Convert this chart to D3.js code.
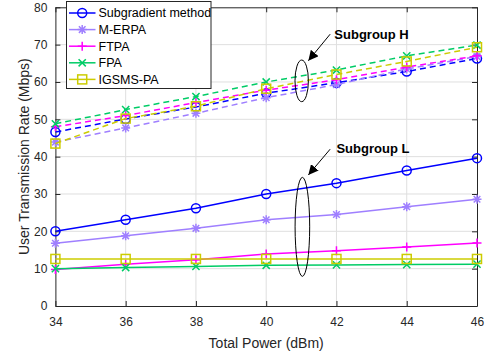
<!DOCTYPE html>
<html>
<head>
<meta charset="utf-8">
<script src="https://cdn.jsdelivr.net/npm/d3@7"></script>
<style>
  html, body { margin: 0; padding: 0; background: #fff; }
  svg { display: block; font-family: "Liberation Sans", Arial, sans-serif; }
</style>
</head>
<body>
<svg id="chart" width="485" height="354"></svg>
<script>
// Total transmit power (dBm)
const powers = [34, 36, 38, 40, 42, 44, 46];

// Subgroup H (dashed lines), user rate in Mbps
const highSubgradient = [46.6, 50.1, 53.3, 57.0, 59.8, 62.8, 66.3];
const highMERPA       = [43.9, 47.7, 51.6, 55.8, 59.3, 63.5, 66.8];
const highFTPA        = [48.0, 51.0, 54.5, 57.8, 60.6, 64.0, 67.0];
const highFPA         = [48.8, 52.6, 56.1, 60.0, 63.2, 67.0, 69.9];
const highIGSMS       = [43.5, 50.2, 53.5, 58.2, 62.0, 65.5, 69.3];

// Subgroup L (solid lines), user rate in Mbps
const lowSubgradient = [20.0, 23.1, 26.2, 30.0, 32.9, 36.3, 39.6];
const lowMERPA       = [16.8, 18.8, 20.8, 23.1, 24.5, 26.6, 28.6];
const lowFTPA        = [9.8, 11.2, 12.4, 13.9, 14.8, 15.8, 16.9];
const lowFPA         = [10.0, 10.3, 10.6, 10.9, 11.0, 11.1, 11.2];
const lowIGSMS       = [12.6, 12.6, 12.6, 12.6, 12.6, 12.6, 12.6];

const methodNames = ["Subgradient method", "M-ERPA", "FTPA", "FPA", "IGSMS-PA"];
const methodColors = ["#0000ff", "#9f7fff", "#ff00ff", "#00cc66", "#cccc00"];
const methodMarkers = ["circle", "star", "plus", "cross", "square"];

const xTicks = [34, 36, 38, 40, 42, 44, 46];
const yTicks = [0, 10, 20, 30, 40, 50, 60, 70, 80];

const highSeries = [highSubgradient, highMERPA, highFTPA, highFPA, highIGSMS];
const lowSeries = [lowSubgradient, lowMERPA, lowFTPA, lowFPA, lowIGSMS];

const svg = d3.select("#chart");
const margin = { left: 55.4, right: 477, top: 7.3, bottom: 306 };

const x = d3.scaleLinear().domain([34, 46]).range([margin.left, margin.right]);
const y = d3.scaleLinear().domain([0, 80]).range([margin.bottom, margin.top]);

const textColor = "#262626";

// grid
const grid = svg.append("g");
grid.selectAll(".gx").data(xTicks.slice(1, -1)).enter().append("line")
  .attr("x1", d => x(d)).attr("x2", d => x(d))
  .attr("y1", margin.top).attr("y2", margin.bottom)
  .attr("stroke", "#dfdfdf").attr("stroke-width", 1);
grid.selectAll(".gy").data(yTicks.slice(1, -1)).enter().append("line")
  .attr("y1", d => y(d)).attr("y2", d => y(d))
  .attr("x1", margin.left).attr("x2", margin.right)
  .attr("stroke", "#dfdfdf").attr("stroke-width", 1);

// axes (ticks drawn inward)
const xAxis = svg.append("g").attr("transform", `translate(0,${margin.bottom})`)
  .call(d3.axisBottom(x).tickValues(xTicks).tickSizeInner(-5).tickSizeOuter(0).tickPadding(11));
const yAxis = svg.append("g").attr("transform", `translate(${margin.left},0)`)
  .call(d3.axisLeft(y).tickValues(yTicks).tickSizeInner(-5).tickSizeOuter(0).tickPadding(8));
const xTop = svg.append("g").attr("transform", `translate(0,${margin.top})`)
  .call(d3.axisTop(x).tickValues(xTicks).tickSizeInner(-5).tickSizeOuter(0).tickFormat(""));
const yRight = svg.append("g").attr("transform", `translate(${margin.right},0)`)
  .call(d3.axisRight(y).tickValues(yTicks).tickSizeInner(-5).tickSizeOuter(0).tickFormat(""));
[xAxis, yAxis, xTop, yRight].forEach(a => {
  a.select(".domain").attr("stroke", textColor).attr("stroke-width", 1);
  a.selectAll(".tick line").attr("stroke", textColor);
  a.selectAll(".tick text").attr("fill", textColor).style("font-size", "12px")
    .style("font-family", "'Liberation Sans', Arial, sans-serif");
});

// axis titles
svg.append("text").attr("x", (margin.left + margin.right) / 2).attr("y", 348)
  .attr("text-anchor", "middle").attr("fill", textColor).style("font-size", "14px")
  .text("Total Power (dBm)");
svg.append("text").attr("transform", `translate(29,${(margin.top + margin.bottom) / 2}) rotate(-90)`)
  .attr("text-anchor", "middle").attr("fill", textColor).style("font-size", "14px")
  .text("User Transmission Rate (Mbps)");

// marker drawing
function drawMarker(g, type, cx, cy, color) {
  const s = 4.5;
  if (type === "circle") {
    g.append("circle").attr("cx", cx).attr("cy", cy).attr("r", s)
      .attr("fill", "none").attr("stroke", color).attr("stroke-width", 1.5);
  } else if (type === "square") {
    g.append("rect").attr("x", cx - 4.5).attr("y", cy - 4.5).attr("width", 9).attr("height", 9)
      .attr("fill", "none").attr("stroke", color).attr("stroke-width", 1.5);
  } else if (type === "plus") {
    g.append("path").attr("d", `M${cx - s},${cy}H${cx + s}M${cx},${cy - s}V${cy + s}`)
      .attr("stroke", color).attr("stroke-width", 1.5);
  } else if (type === "cross") {
    const c = 3.6;
    g.append("path").attr("d", `M${cx - c},${cy - c}L${cx + c},${cy + c}M${cx - c},${cy + c}L${cx + c},${cy - c}`)
      .attr("stroke", color).attr("stroke-width", 1.5);
  } else if (type === "star") {
    const c = 3.3;
    g.append("path").attr("d",
      `M${cx - s},${cy}H${cx + s}M${cx},${cy - s}V${cy + s}` +
      `M${cx - c},${cy - c}L${cx + c},${cy + c}M${cx - c},${cy + c}L${cx + c},${cy - c}`)
      .attr("stroke", color).attr("stroke-width", 1.5);
  }
}

const line = d3.line().x((d, i) => x(powers[i])).y(d => y(d));
const plot = svg.append("g");

function drawSeries(values, idx, dashed) {
  const color = methodColors[idx];
  plot.append("path").datum(values).attr("d", line)
    .attr("fill", "none").attr("stroke", color).attr("stroke-width", 1.5)
    .attr("stroke-dasharray", dashed ? "6,4" : null);
  const mg = plot.append("g");
  values.forEach((v, i) => drawMarker(mg, methodMarkers[idx], x(powers[i]), y(v), color));
}

lowSeries.forEach((s, i) => drawSeries(s, i, false));
highSeries.forEach((s, i) => drawSeries(s, i, true));

// annotations: ellipses grouping each subgroup, with arrows and labels
const defs = svg.append("defs");
defs.append("marker").attr("id", "arrow").attr("viewBox", "0 0 10 10")
  .attr("refX", 10).attr("refY", 5).attr("markerWidth", 10).attr("markerHeight", 10)
  .attr("markerUnits", "userSpaceOnUse").attr("orient", "auto")
  .append("path").attr("d", "M0,0L10,5L0,10z").attr("fill", "#000");

const notes = [
  { label: "Subgroup H", cx: 41.01, cy: 60.3, rx: 6.7, ry: 20.8, fromX: 41.82, fromY: 72.8, toX: 41.2, toY: 65.7, tx: 41.94, ty: 71.5 },
  { label: "Subgroup L", cx: 41.03, cy: 21.2, rx: 7.3, ry: 49.5, fromX: 41.82, fromY: 42.0, toX: 41.2, toY: 35.1, tx: 42.0, ty: 40.9 }
];
notes.forEach(n => {
  svg.append("ellipse").attr("cx", x(n.cx)).attr("cy", y(n.cy)).attr("rx", n.rx).attr("ry", n.ry)
    .attr("fill", "none").attr("stroke", "#000").attr("stroke-width", 1);
  svg.append("line").attr("x1", x(n.fromX)).attr("y1", y(n.fromY))
    .attr("x2", x(n.toX)).attr("y2", y(n.toY))
    .attr("stroke", "#000").attr("stroke-width", 1).attr("marker-end", "url(#arrow)");
  svg.append("text").attr("x", x(n.tx)).attr("y", y(n.ty))
    .attr("fill", "#000").style("font-size", "13px").style("font-weight", "bold")
    .text(n.label);
});

// legend
const legend = svg.append("g");
legend.append("rect").attr("x", 66.5).attr("y", 1.5).attr("width", 144.5).attr("height", 87)
  .attr("fill", "#fff").attr("stroke", textColor).attr("stroke-width", 1);
methodNames.forEach((name, i) => {
  const ly = 13 + i * 16.6;
  legend.append("line").attr("x1", 69).attr("x2", 95.5).attr("y1", ly).attr("y2", ly)
    .attr("stroke", methodColors[i]).attr("stroke-width", 1.5);
  drawMarker(legend, methodMarkers[i], 82.2, ly, methodColors[i]);
  legend.append("text").attr("x", 98.5).attr("y", ly + 4.3).attr("fill", "#000")
    .style("font-size", "12.5px").text(name);
});
</script>
</body>
</html>
